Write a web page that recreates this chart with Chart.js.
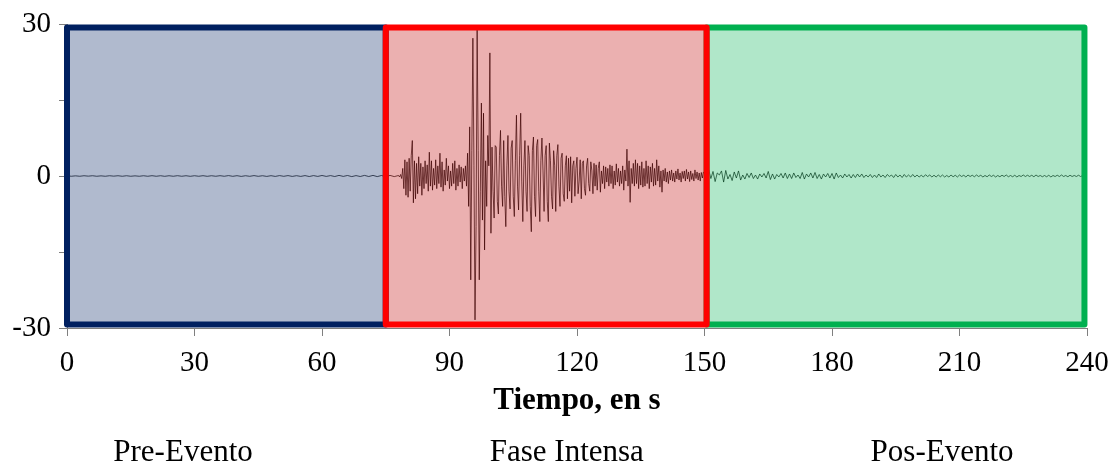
<!DOCTYPE html>
<html>
<head>
<meta charset="utf-8">
<script src="https://cdn.jsdelivr.net/npm/chart.js@4.4.1/dist/chart.umd.min.js"></script>
<style>
  body { margin: 0; background: #ffffff; }
  #wrap { width: 1117px; height: 466px; }
</style>
</head>
<body>
<div id="wrap"><canvas id="sismo"></canvas></div>
<script>
// registro, en tres tramos con paso constante
var preInicio = 0, prePaso = 1;          // 0 - 77 s
var preEvento = [
    0.05, -0.05, 0.03, -0.05, 0.05, -0.03, 0.05, -0.05, 0.03, -0.05,
    0.05, -0.03, 0.05, -0.05, 0.05, -0.05, 0.03, -0.05, 0.05, -0.05,
    0.06, -0.05, 0.05, -0.06, 0.05, -0.05, 0.06, -0.05, 0.05, -0.06,
    0.05, -0.05, 0.06, -0.06, 0.05, -0.05, 0.06, -0.05, 0.08, -0.06,
    0.06, -0.08, 0.05, -0.06, 0.08, -0.06, 0.05, -0.08, 0.06, -0.08,
    0.08, -0.06, 0.08, -0.08, 0.06, -0.08, 0.08, -0.1, 0.08, -0.08,
    0.1, -0.08, 0.08, -0.1, 0.12, -0.08, 0.1, -0.12, 0.08, -0.1,
    0.12, -0.1, 0.12, -0.12, 0.1, -0.15, 0.12, -0.12
];

var intensaInicio = 78, intensaPaso = 0.25;   // 78 - 149.75 s
var faseIntensa = [
    0.1, -0.2, 0.3, -0.5,      // 78
    1.5, -2.5, 3.2, -3.8,
    2.8, -4.2, 3.5, -3.0,      // 80
    4.0, 7.0, -5.3, 3.0,
    -4.5, 2.5, -3.5, 3.8,
    -2.0, 2.5, -3.8, 1.8,
    -2.5, 3.0, -1.5, 2.2,
    -3.0, 4.7, -2.0, 3.0,      // 85
    -2.8, 1.5, -1.8, 3.2,
    -2.5, 2.0, -1.5, 4.5,
    -2.2, 2.8, -3.0, 1.2,
    -1.8, 3.5, -1.0, 2.0,
    -2.5, 1.0, -2.0, 2.5,      // 90
    -1.5, 3.0, -2.8, 1.5,
    -2.0, 2.2, -1.2, 1.8,
    -2.5, 1.5, -1.0, 2.0,
    -2.0, 4.5, -6.0, 9.7,
    -20.5, 5.0, 27.2, 2.0,     // 95
    -28.4, -10.0, 28.8, 5.0,
    -20.5, -3.0, 14.4, -8.7,
    12.4, -14.6, 3.0, -6.0,
    8.0, 2.0, 24.3, -11.3,
    5.7, -3.0, -8.3, 6.0,      // 100
    5.7, -5.0, -7.5, 4.0,
    9.0, -2.0, -6.0, 7.0,
    -4.0, -10.0, 2.0, 8.0,
    -3.0, -6.5, 5.5, 7.0,
    -4.0, -8.0, 3.0, 12.0,     // 105
    -2.0, -6.7, 4.0, 12.4,
    -1.0, -9.0, 2.0, 7.0,
    -3.0, -7.0, 6.0, 4.0,
    -6.0, -11.0, 5.0, 7.7,
    -4.0, -8.0, 6.0, 7.2,      // 110
    -3.0, -9.0, 3.0, 7.5,
    1.0, -7.0, 4.0, 6.0,
    -5.0, -9.0, 6.5, 3.0,
    -4.0, -6.5, 5.0, 2.0,
    -7.0, 4.0, 6.2, -2.0,      // 115
    -6.0, 3.5, 4.5, -3.5,
    -5.0, 2.0, 4.0, -4.5,
    3.5, -3.0, 3.8, -5.3,
    2.0, 3.0, -4.0, 1.5,
    3.7, -3.5, -1.0, 3.2,      // 120
    -4.5, 2.5, 3.0, -2.5,
    -3.8, 2.0, 3.5, -1.5,
    -3.0, 2.8, 1.0, -3.5,
    2.5, -2.0, 2.2, -2.8,
    1.5, 2.8, -3.2, 1.0,       // 125
    -1.5, 2.0, -2.5, 1.8,
    -1.2, 1.5, -2.0, 2.2,
    -1.5, 2.0, -2.5, 1.0,
    -1.8, 2.4, -1.2, 1.5,
    -2.0, 1.0, -1.5, 2.0,      // 130
    -2.8, 1.2, -1.0, 5.3,
    -2.0, 3.0, -5.2, 1.5,
    -1.5, 2.5, -2.0, 3.2,
    -1.5, 2.5, -2.5, 2.0,
    -1.8, 2.8, -2.2, 1.5,      // 135
    -2.0, 3.0, -1.5, 2.0,
    -2.5, 1.8, -1.2, 2.5,
    -2.0, 1.5, -1.8, 3.2,
    -1.0, 2.0, -2.2, 1.0,
    -3.2, 1.2, -1.0, 1.5,      // 140
    -1.2, 0.8, -1.5, 1.0,
    -0.8, 1.2, -1.0, 0.6,
    -1.2, 1.0, -0.6, 1.4,
    -0.8, 0.6, -1.2, 0.9,
    -0.5, 1.0, -1.0, 1.3,      // 145
    -0.6, 0.8, -1.1, 1.0,
    -0.7, 0.5, -1.0, 1.2,
    -0.5, 0.8, -0.8, 0.6,
    -1.0, 0.7, -0.4, 0.8
];

var posInicio = 150, posPaso = 0.5;   // 150 - 239.5 s
var posEvento = [
    0.4, -0.8, 1.2, -0.5, 0.9, -1.1, 0.6, 0.2, 1.0, -1.2,
    1.1, -0.6, 0.3, -0.9, 0.8, -0.4, 1.0, -0.8, 0.2, -0.6,
    0.5, -0.3, 0.6, -0.5, 0.2, -0.6, 0.4, -0.2, 0.5, -0.4,
    0.9, -0.7, 0.4, -0.6, 0.3, -0.2, 0.5, -0.4, 0.6, -0.5,
    0.4, -0.5, 0.6, -0.3, 0.2, -0.5, 0.7, -0.6, 0.4, -0.2,
    0.6, -0.4, 0.7, -0.5, 0.3, -0.6, 0.4, -0.2, 0.5, -0.4,
    0.5, -0.6, 0.6, -0.3, 0.2, -0.4, 0.4, -0.2, 0.3, -0.4,
    0.3, -0.3, 0.4, -0.2, 0.4, -0.3, 0.2, -0.2, 0.3, -0.3,
    0.2, -0.3, 0.4, -0.2, 0.2, -0.3, 0.3, -0.1, 0.2, -0.3,
    0.3, -0.2, 0.2, -0.3, 0.3, -0.2, 0.2, -0.2, 0.3, -0.2,
    0.2, -0.2, 0.15, -0.2, 0.25, -0.1, 0.2, -0.2, 0.15, -0.2,
    0.2, -0.15, 0.2, -0.2, 0.1, -0.2, 0.2, -0.15, 0.15, -0.2,
    0.2, -0.1, 0.15, -0.2, 0.2, -0.1, 0.15, -0.15, 0.2, -0.1,
    0.15, -0.2, 0.1, -0.15, 0.2, -0.1, 0.15, -0.2, 0.1, -0.15,
    0.15, -0.1, 0.2, -0.15, 0.1, -0.15, 0.15, -0.2, 0.1, -0.1,
    0.2, -0.1, 0.15, -0.1, 0.15, -0.15, 0.2, -0.1, 0.1, -0.15,
    0.1, -0.15, 0.15, -0.2, 0.1, -0.1, 0.15, -0.1, 0.2, -0.1,
    0.1, -0.15, 0.15, -0.1, 0.1, -0.1, 0.15, -0.1, 0.1, -0.1
];

// fases del registro
var fases = ["Pre-Evento", "Fase Intensa", "Pos-Evento"];
var faseInicio = [0, 75, 150.5];
var faseFin = [75, 150.5, 239.4];
var faseAlto = 29.3;
var faseBorde = ["#002060", "#FF0000", "#00B050"];
var faseRelleno = ["rgba(0,32,96,0.31)", "rgba(190,0,0,0.31)", "rgba(0,176,80,0.31)"];
var faseEtiqueta = [27.3, 117.6, 205.9];   // centro del texto, en s

var xTicks = [0, 30, 60, 90, 120, 150, 180, 210, 240];
var yTicks = [-30, -15, 0, 15, 30];
var yEtiquetas = [-30, 0, 30];

var fuente = "'Liberation Serif', 'Times New Roman', serif";

function tramo(valores, inicio, paso, puntos) {
    for (var i = 0; i < valores.length; i++) {
        puntos.push({ x: inicio + i * paso, y: valores[i] });
    }
}

var registro = [];
tramo(preEvento, preInicio, prePaso, registro);
tramo(faseIntensa, intensaInicio, intensaPaso, registro);
tramo(posEvento, posInicio, posPaso, registro);

var fasesPlugin = {
    id: "fases",
    afterDatasetsDraw: function(chart) {
        var ctx = chart.ctx;
        var sx = chart.scales.x, sy = chart.scales.y;
        var top = sy.getPixelForValue(faseAlto);
        var bottom = sy.getPixelForValue(-faseAlto);
        var orden = [0, 2, 1];   // el rojo queda encima
        ctx.save();
        for (var k = 0; k < orden.length; k++) {
            var i = orden[k];
            var x0 = sx.getPixelForValue(faseInicio[i]);
            var x1 = sx.getPixelForValue(faseFin[i]);
            ctx.fillStyle = faseRelleno[i];
            ctx.fillRect(x0, top, x1 - x0, bottom - top);
            ctx.strokeStyle = faseBorde[i];
            ctx.lineWidth = 6;
            ctx.lineJoin = "round";
            ctx.strokeRect(x0, top, x1 - x0, bottom - top);
        }
        ctx.restore();
    },
    afterDraw: function(chart) {
        var ctx = chart.ctx;
        var sx = chart.scales.x;
        var area = chart.chartArea;
        ctx.save();
        ctx.fillStyle = "#000";
        ctx.textAlign = "center";
        ctx.textBaseline = "middle";
        ctx.font = "bold 31px " + fuente;
        ctx.fillText("Tiempo, en s", (area.left + area.right) / 2, area.bottom + 73);
        ctx.font = "31px " + fuente;
        for (var i = 0; i < fases.length; i++) {
            ctx.fillText(fases[i], sx.getPixelForValue(faseEtiqueta[i]), area.bottom + 125);
        }
        ctx.restore();
    }
};

var ejes = {
    display: true,
    drawOnChartArea: false,
    drawTicks: true,
    tickLength: 8,
    color: "#7f7f7f"
};

var ctxSismo = document.getElementById("sismo").getContext("2d");
window.sismo = new Chart(ctxSismo, {
    type: "line",
    data: {
        datasets: [{
            data: registro,
            borderColor: "#000000",
            borderWidth: 0.7,
            pointRadius: 0,
            fill: false,
            tension: 0
        }]
    },
    options: {
        responsive: true,
        maintainAspectRatio: false,
        animation: false,
        parsing: false,
        layout: { padding: { top: 24, right: 30, left: 0, bottom: 0 } },
        plugins: {
            legend: { display: false },
            tooltip: { enabled: false }
        },
        scales: {
            x: {
                type: "linear",
                min: 0,
                max: 240,
                afterBuildTicks: function(scale) {
                    scale.ticks = xTicks.map(function(v) { return { value: v }; });
                },
                afterFit: function(scale) {
                    scale.height = 138;
                    scale.paddingLeft = 0;
                    scale.paddingRight = 0;
                },
                grid: ejes,
                border: { display: true, color: "#7f7f7f", width: 1 },
                ticks: {
                    color: "#000",
                    padding: 10,
                    maxRotation: 0,
                    autoSkip: false,
                    font: { family: fuente, size: 29 }
                }
            },
            y: {
                min: -30,
                max: 30,
                afterBuildTicks: function(scale) {
                    scale.ticks = yTicks.map(function(v) { return { value: v }; });
                },
                afterFit: function(scale) {
                    scale.width = 67;
                    scale.paddingTop = 0;
                    scale.paddingBottom = 0;
                },
                grid: ejes,
                border: { display: true, color: "#7f7f7f", width: 1 },
                ticks: {
                    color: "#000",
                    padding: 8,
                    autoSkip: false,
                    font: { family: fuente, size: 29 },
                    callback: function(v) {
                        return yEtiquetas.indexOf(v) >= 0 ? String(v) : "";
                    }
                }
            }
        }
    },
    plugins: [fasesPlugin]
});
</script>
</body>
</html>
